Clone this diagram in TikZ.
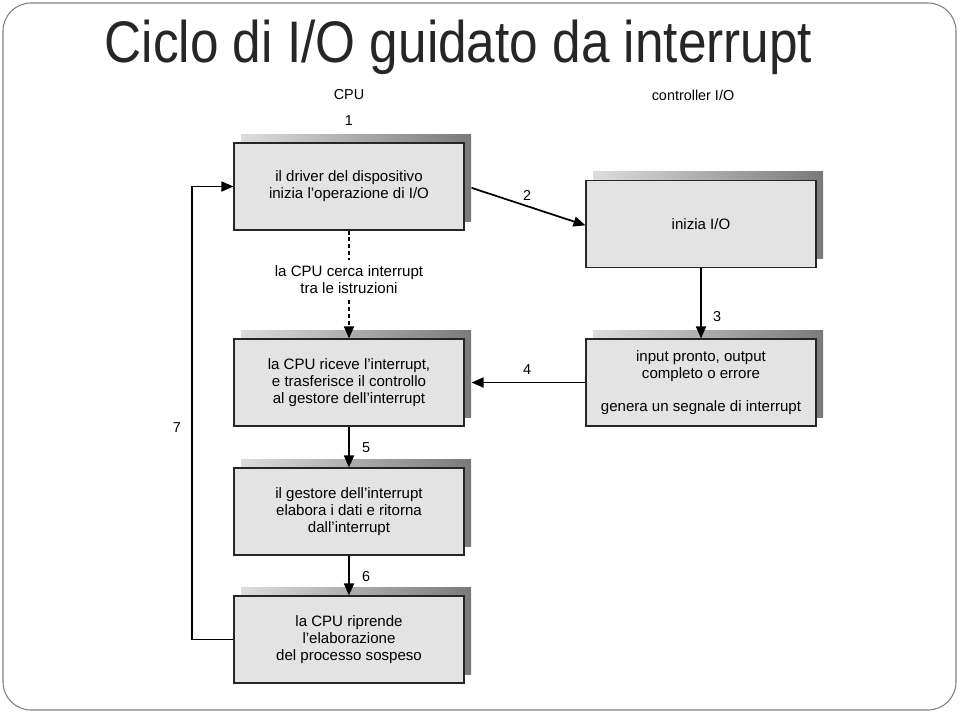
\documentclass[tikz,border=0pt]{standalone}
\usepackage{fontspec}
\setmainfont{Liberation Sans}
\newfontfamily\titlefont[FakeStretch=0.875]{Liberation Sans}
\usetikzlibrary{arrows.meta,shadows}
\definecolor{boxfill}{HTML}{E3E3E3}
\definecolor{shl}{HTML}{DDDDDD}
\definecolor{shr}{HTML}{7A7A7A}
\definecolor{titlecol}{HTML}{262626}
\definecolor{framecol}{HTML}{7F7F7F}
\begin{document}
\begin{tikzpicture}[x=0.75pt,y=-0.75pt,
  txt/.style={font=\fontsize{10.8}{12.75}\selectfont, align=center, inner sep=1pt},
  boxtxt/.style={font=\fontsize{11.3}{12.9}\selectfont, align=center, inner sep=1pt},
  stepbox/.style={boxtxt, draw=black!85, line width=0.8pt, fill=boxfill,
    minimum width=172.5pt, minimum height=65.25pt,
    general shadow={shadow xshift=5.25pt, shadow yshift=6.75pt, left color=shl, right color=shr, draw=none}},
  arr/.style={line width=1.3pt, -{Triangle[length=9pt,width=7.5pt]}},
  dsh/.style={line width=1.3pt, dash pattern=on 3pt off 2.2pt}]
\useasboundingbox (0,0) rectangle (960,714);
\draw[framecol, line width=0.8pt, rounded corners=21pt] (3,3) rectangle (956,710);
\node[font=\titlefont\fontsize{44}{52}\selectfont, text=titlecol, anchor=base, inner sep=0pt] (title) at (458.5,62) {Ciclo di I/O guidato da interrupt};

\node[txt] (cpu) at (349,95) {CPU};
\node[txt] (ctrl) at (693,95) {controller I/O};

\node[stepbox] (b1) at (349,186.5) {il driver del dispositivo\\inizia l’operazione di I/O};
\node[stepbox] (b2) at (701,224) {inizia I/O};
\node[stepbox] (b3) at (349,382.5) {la CPU riceve l’interrupt,\\e trasferisce il controllo\\al gestore dell’interrupt};
\node[stepbox] (b4) at (701,382.5) {input pronto, output\\completo o errore\\[12pt]genera un segnale di interrupt};
\node[stepbox] (b5) at (349,511.5) {il gestore dell’interrupt\\elabora i dati e ritorna\\dall’interrupt};
\node[stepbox] (b6) at (349,639.5) {la CPU riprende\\l’elaborazione\\del processo sospeso};

\node[boxtxt, inner sep=4pt] (cerca) at (349,280) {la CPU cerca interrupt\\tra le istruzioni};

\node[txt] (n1) at (349,121) {1};
\node[txt] (n2) at (527,195) {2};
\node[txt] (n3) at (717,317) {3};
\node[txt] (n4) at (527,370) {4};
\node[txt] (n5) at (366,448) {5};
\node[txt] (n6) at (366,577) {6};
\node[txt] (n7) at (177,428) {7};

\coordinate (c7) at (192,0);

\draw[arr] ([xshift=5.25pt,yshift=-1pt]b1.east) -- ([yshift=-1pt]b2.west);
\draw[arr] (b2.south) -- (b4.north);
\draw[arr] (b4.west) -- ([xshift=5.25pt]b3.east);
\draw[dsh] (b1.south) -- (cerca.north);
\draw[dsh, -{Triangle[length=9pt,width=7.5pt]}] (cerca.south) -- (b3.north);
\draw[arr] (b3.south) -- (b5.north);
\draw[arr] (b5.south) -- (b6.north);
\draw[arr] (b6.west) -- (b6.west -| c7) |- (b1.west);
\end{tikzpicture}
\end{document}
